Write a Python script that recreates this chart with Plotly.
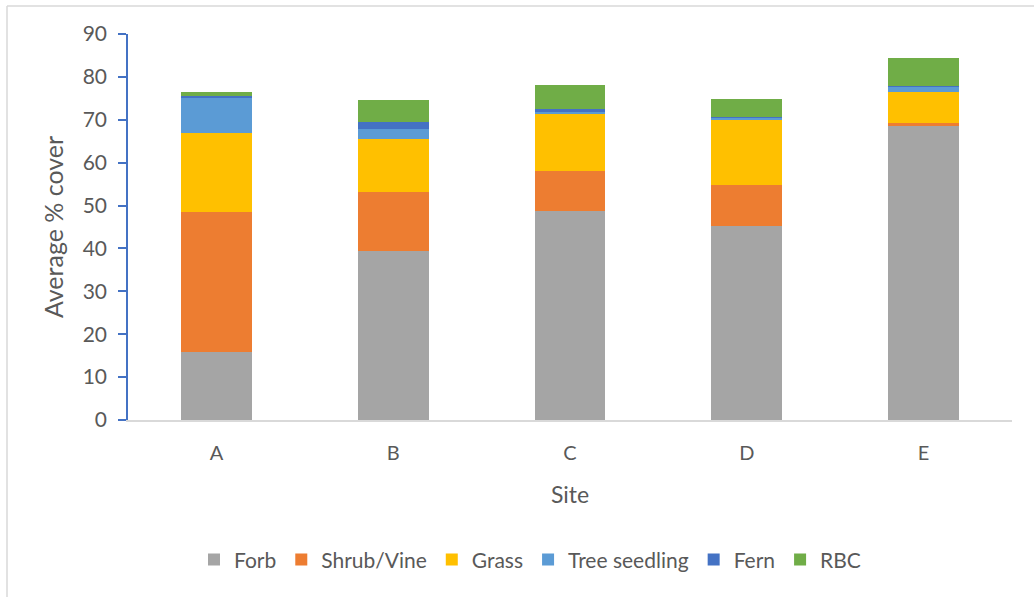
import plotly.graph_objects as go

sites = ["A", "B", "C", "D", "E"]
forb = [15.8, 39.4, 48.7, 45.3, 68.6]
shrub_vine = [32.7, 13.8, 9.3, 9.6, 0.6]
grass = [18.5, 12.3, 13.3, 15.1, 7.2]
tree_seedling = [8.3, 2.4, 0.5, 0.6, 1.4]
fern = [0.3, 1.5, 0.6, 0.1, 0.1]
rbc = [0.8, 5.1, 5.8, 4.1, 6.4]

series = [
    ("Forb", forb, "#A5A5A5"),
    ("Shrub/Vine", shrub_vine, "#ED7D31"),
    ("Grass", grass, "#FFC000"),
    ("Tree seedling", tree_seedling, "#5B9BD5"),
    ("Fern", fern, "#4472C4"),
    ("RBC", rbc, "#70AD47"),
]

FONT = "Lato, 'Open Sans', sans-serif"
TEXT = "#595959"

fig = go.Figure()
for name, vals, color in series:
    fig.add_trace(go.Bar(
        x=sites, y=vals, name=name,
        marker=dict(color=color, line=dict(width=0)),
    ))

W, H = 1034, 597
L, R, T, B = 128, 22, 33.5, 177
pw = W - L - R
ph = H - T - B

fig.update_layout(
    width=W, height=H,
    barmode="stack",
    bargap=0.6,
    margin=dict(l=L, r=R, t=T, b=B, pad=0),
    paper_bgcolor="white",
    plot_bgcolor="white",
    font=dict(family=FONT, size=20, color=TEXT),
    showlegend=True,
    legend=dict(
        orientation="h",
        x=(530 - L) / pw, xanchor="center",
        y=-(560 - (T + ph)) / ph, yanchor="middle",
        font=dict(family=FONT, size=21, color=TEXT),
        itemwidth=30,
        traceorder="normal",
    ),
    xaxis=dict(
        showline=True, linecolor="#D9D9D9", linewidth=1.5,
        ticks="", showgrid=False,
        tickfont=dict(family=FONT, size=20, color=TEXT),
        ticklabelstandoff=14,
        title=dict(text="Site", font=dict(family=FONT, size=23, color=TEXT), standoff=24),
    ),
    yaxis=dict(
        range=[0, 90], dtick=10,
        showline=True, linecolor="#4472C4", linewidth=1.5,
        ticks="outside", ticklen=8, tickcolor="#4472C4", tickwidth=1.5,
        showgrid=False, zeroline=False,
        tickfont=dict(family=FONT, size=21, color=TEXT),
        ticklabelstandoff=7,
        title=dict(text="Average % cover", font=dict(family=FONT, size=25, color=TEXT), standoff=12),
    ),
)

# Chart frame (top and left edges fall inside the page)
fig.add_shape(type="line", xref="paper", yref="paper",
              x0=(7 - L) / pw, x1=(W + 20 - L) / pw,
              y0=(T + ph - 5.5) / ph, y1=(T + ph - 5.5) / ph,
              line=dict(color="#D9D9D9", width=1.5))
fig.add_shape(type="line", xref="paper", yref="paper",
              x0=(7 - L) / pw, x1=(7 - L) / pw,
              y0=(T + ph - 5.5) / ph, y1=-(H + 20 - T - ph) / ph,
              line=dict(color="#D9D9D9", width=1.5))

fig.write_html("out.html")
